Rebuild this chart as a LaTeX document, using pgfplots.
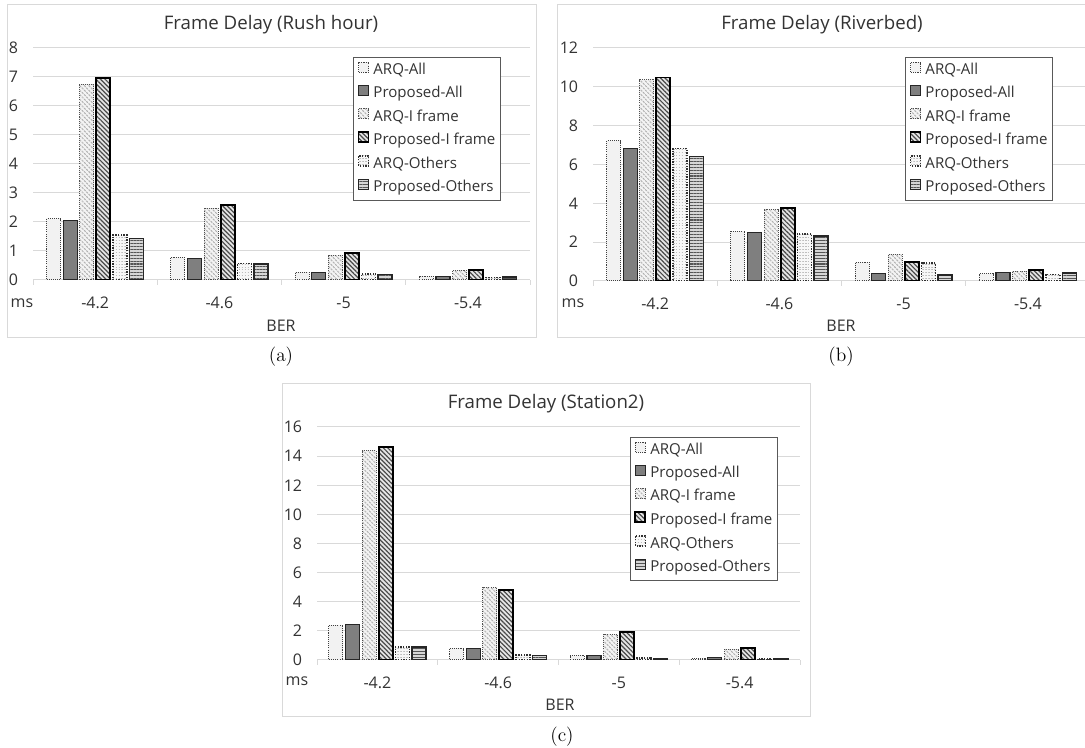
\documentclass[border=0pt]{standalone}
\usepackage{pgfplots}
\pgfplotsset{compat=1.18}
\usepackage{pgfplotstable}
\usepackage{fontspec}
\newfontfamily\sans{Open Sans}
\usetikzlibrary{patterns.meta}

\definecolor{gridc}{HTML}{D9D9D9}
\definecolor{boxc}{HTML}{D9D9D9}
\definecolor{txt}{HTML}{333333}
\definecolor{legc}{HTML}{595959}
\definecolor{cAAf}{HTML}{F2F2F2}
\definecolor{cAAd}{HTML}{404040}
\definecolor{cPAf}{HTML}{7F7F7F}
\definecolor{cPAd}{HTML}{262626}
\definecolor{cAIf}{HTML}{F4F4F4}
\definecolor{cAIp}{HTML}{B0B0B0}
\definecolor{cAId}{HTML}{505050}
\definecolor{cPIf}{HTML}{E6E6E6}
\definecolor{cPIp}{HTML}{4A4A4A}
\definecolor{cAOf}{HTML}{F7F7F7}
\definecolor{cAOp}{HTML}{BEBEBE}
\definecolor{cAOd}{HTML}{303030}
\definecolor{cPOf}{HTML}{D6D6D6}
\definecolor{cPOp}{HTML}{555555}
\definecolor{cPOd}{HTML}{262626}

\pgfplotstableread{
x aa pa ai pi ao po
0 2.12 2.05 6.75 6.96 1.55 1.43
1 0.78 0.73 2.48 2.59 0.57 0.55
2 0.27 0.27 0.86 0.94 0.20 0.19
3 0.13 0.13 0.33 0.35 0.09 0.11
}\tabA
\pgfplotstableread{
x aa pa ai pi ao po
0 7.23 6.84 10.36 10.48 6.82 6.41
1 2.56 2.49 3.68 3.76 2.43 2.32
2 0.96 0.39 1.38 0.99 0.92 0.31
3 0.38 0.43 0.51 0.57 0.34 0.41
}\tabB
\pgfplotstableread{
x aa pa ai pi ao po
0 2.40 2.45 14.38 14.63 0.89 0.88
1 0.80 0.80 4.98 4.80 0.34 0.32
2 0.30 0.32 1.78 1.94 0.14 0.11
3 0.09 0.16 0.73 0.80 0.07 0.07
}\tabC

\tikzset{
 barAA/.style={fill=cAAf, draw=cAAd, line width=0.8pt, dash pattern=on 0.8pt off 0.8pt},
 barPA/.style={fill=cPAf, draw=cPAd, line width=0.9pt},
 barAI/.style={preaction={fill=cAIf},
    pattern={Lines[angle=-45,distance=2.4pt,line width=0.8pt]}, pattern color=cAIp,
    draw=cAId, line width=0.8pt, dash pattern=on 0.8pt off 0.8pt},
 barPI/.style={preaction={fill=cPIf},
    pattern={Lines[angle=-45,distance=2.4pt,line width=0.9pt]}, pattern color=cPIp,
    draw=black, line width=1.4pt},
 barAO/.style={preaction={fill=cAOf},
    pattern={Lines[angle=0,distance=2.2pt,line width=0.6pt]}, pattern color=cAOp,
    draw=cAOd, line width=1.1pt, dash pattern=on 1pt off 1pt},
 barPO/.style={preaction={fill=cPOf},
    pattern={Lines[angle=0,distance=2.2pt,line width=0.8pt]}, pattern color=cPOp,
    draw=cPOd, line width=1.1pt},
}

\pgfplotsset{
 fdstyle/.style={
  scale only axis,
  ybar=1.95pt, bar width=10.5pt,
  xmin=-0.5, xmax=3.5, ymin=0,
  xtick={0,1,2,3}, xticklabels={-4.2,-4.6,-5,-5.4},
  minor xtick={-0.5,0.5,1.5,2.5,3.5},
  major tick length=0pt, minor tick length=3.75pt, tick align=outside,
  tick pos=left,
  minor tick style={draw=gridc, line width=0.75pt},
  major tick style={draw=none},
  axis line style={draw=none},
  ymajorgrids, grid style={draw=gridc, line width=0.75pt},
  /pgf/number format/assume math mode=true,
  tick label style={font=\sans\fontsize{12}{14}\selectfont, text=txt},
  xticklabel style={anchor=center, yshift=-17.25pt},
  yticklabel style={anchor=east, inner sep=0pt, xshift=-11pt},
  legend cell align=left,
  legend style={draw=legc, line width=0.75pt, anchor=north west,
    font=\sans\fontsize{11.3}{13}\selectfont, text=txt,
    inner xsep=3pt, inner ysep=3pt, row sep=4.3pt,
    nodes={inner sep=1pt, text height=8pt, text depth=2.5pt},
    /tikz/every odd column/.append style={column sep=2pt}},
  legend image code/.code={\draw[##1] (0pt,-1pt) rectangle (7.5pt,6.5pt);},
 }
}

\begin{document}
\begin{tikzpicture}
\begin{scope}[x=0.75pt, y=-0.75pt, shift={(0pt,561pt)}]
 \fill[white] (0,0) rectangle (1085,748);
 \draw[boxc, line width=0.75pt] (7,5) rectangle (536,338);
 \draw[boxc, line width=0.75pt] (557,5) rectangle (1092,338);
 \draw[boxc, line width=0.75pt] (282,384) rectangle (810,717);
\end{scope}

% (a)
\begin{axis}[fdstyle, at={(24.75pt,351pt)}, anchor=south west,
  width=372.75pt, height=174pt, ymax=8, ytick={0,1,...,8},
  legend style={at={(0.644,0.961)}}]
 \addplot[barAA] table[x=x,y=aa]{\tabA};
 \addplot[barPA] table[x=x,y=pa]{\tabA};
 \addplot[barAI] table[x=x,y=ai]{\tabA};
 \addplot[barPI] table[x=x,y=pi]{\tabA};
 \addplot[barAO] table[x=x,y=ao]{\tabA};
 \addplot[barPO] table[x=x,y=po]{\tabA};
 \legend{ARQ-All,Proposed-All,ARQ-I frame,Proposed-I frame,ARQ-Others,Proposed-Others}
\end{axis}

% (b)
\begin{axis}[fdstyle, at={(444.75pt,350.25pt)}, anchor=south west,
  width=372.75pt, height=174.75pt, ymax=12, ytick={0,2,...,12},
  legend style={at={(0.628,0.961)}}]
 \addplot[barAA] table[x=x,y=aa]{\tabB};
 \addplot[barPA] table[x=x,y=pa]{\tabB};
 \addplot[barAI] table[x=x,y=ai]{\tabB};
 \addplot[barPI] table[x=x,y=pi]{\tabB};
 \addplot[barAO] table[x=x,y=ao]{\tabB};
 \addplot[barPO] table[x=x,y=po]{\tabB};
 \legend{ARQ-All,Proposed-All,ARQ-I frame,Proposed-I frame,ARQ-Others,Proposed-Others}
\end{axis}

% (c)
\begin{axis}[fdstyle, at={(237.75pt,66pt)}, anchor=south west,
  width=362.25pt, height=174.75pt, ymax=16, ytick={0,2,...,16},
  legend style={at={(0.648,0.957)}}]
 \addplot[barAA] table[x=x,y=aa]{\tabC};
 \addplot[barPA] table[x=x,y=pa]{\tabC};
 \addplot[barAI] table[x=x,y=ai]{\tabC};
 \addplot[barPI] table[x=x,y=pi]{\tabC};
 \addplot[barAO] table[x=x,y=ao]{\tabC};
 \addplot[barPO] table[x=x,y=po]{\tabC};
 \legend{ARQ-All,Proposed-All,ARQ-I frame,Proposed-I frame,ARQ-Others,Proposed-Others}
\end{axis}

\begin{scope}[x=0.75pt, y=-0.75pt, shift={(0pt,561pt)},
  every node/.style={text=txt, font=\sans\fontsize{12}{14}\selectfont, inner sep=0pt}]
 \node[font=\sans\fontsize{14}{16}\selectfont] at (271,25) {Frame Delay (Rush hour)};
 \node[font=\sans\fontsize{14}{16}\selectfont] at (822,25) {Frame Delay (Riverbed)};
 \node[font=\sans\fontsize{14}{16}\selectfont] at (546,404) {Frame Delay (Station2)};
 \node at (22,303) {ms};
 \node at (573,303) {ms};
 \node at (297,681) {ms};
 \node at (281,326) {BER};
 \node at (841,326) {BER};
 \node at (560,705) {BER};
 \node[font=\rmfamily\fontsize{14.5}{16}\selectfont, text=black] at (281,357) {(a)};
 \node[font=\rmfamily\fontsize{14.5}{16}\selectfont, text=black] at (841,357) {(b)};
 \node[font=\rmfamily\fontsize{14.5}{16}\selectfont, text=black] at (562,737) {(c)};
\end{scope}

\pgfresetboundingbox
\path[use as bounding box] (0pt,0pt) rectangle (813.75pt,561pt);
\end{tikzpicture}
\end{document}
